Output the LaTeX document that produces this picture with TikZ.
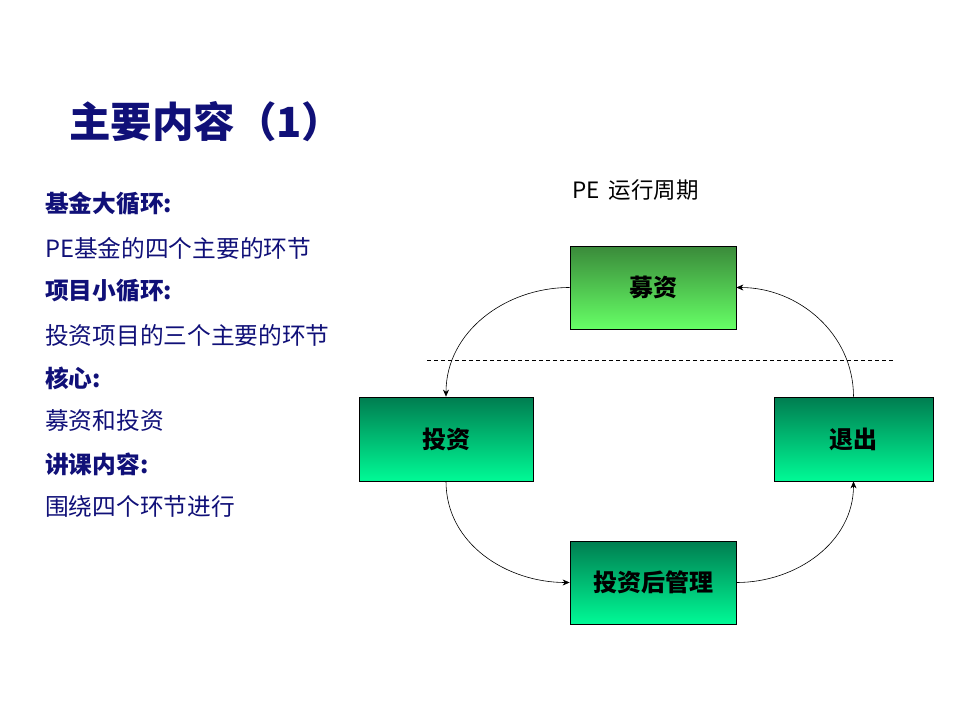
\documentclass[tikz,border=0pt]{standalone}
\usepackage{fontspec}
\newfontfamily\cjk{Noto Sans CJK SC}
\usetikzlibrary{arrows.meta}
\definecolor{navytxt}{RGB}{16,16,120}
\definecolor{gtopA}{RGB}{58,138,58}
\definecolor{gbotA}{RGB}{102,255,102}
\definecolor{gtopB}{RGB}{0,125,80}
\definecolor{gbotB}{RGB}{0,250,150}
\tikzset{
  stagebox/.style={draw=black, line width=0.8pt, inner sep=0pt,
    font=\cjk\bfseries\fontsize{24}{28}\selectfont, text=black},
  greenA/.style={top color=gtopA, bottom color=gbotA},
  greenB/.style={top color=gtopB, bottom color=gbotB},
  lefttxt/.style={anchor=west, inner sep=0pt, text=navytxt, font=\cjk\fontsize{23.7}{27}\selectfont},
  lefthead/.style={lefttxt, font=\cjk\bfseries\fontsize{23.7}{27}\selectfont},
  cycarrow/.style={-{Stealth[length=7pt,width=6pt]}, line width=0.6pt, black},
}
\begin{document}
\begin{tikzpicture}[x=1pt,y=-1pt]
\useasboundingbox[fill=white] (0,0) rectangle (960,720);
% title
\node[anchor=west, inner sep=0pt, text=navytxt, font=\cjk\bfseries\fontsize{41.5}{46}\selectfont] (title) at (69,122) {主要内容（1）};
% left text
\node[lefthead] (l1) at (45,204) {基金大循环:};
\node[lefttxt]  (l2) at (45,248) {PE基金的四个主要的环节};
\node[lefthead] (l3) at (45,291) {项目小循环:};
\node[lefttxt]  (l4) at (45,335) {投资项目的三个主要的环节};
\node[lefthead] (l5) at (45,378) {核心:};
\node[lefttxt]  (l6) at (45,421) {募资和投资};
\node[lefthead] (l7) at (45,464) {讲课内容:};
\node[lefttxt]  (l8) at (45,507) {围绕四个环节进行};
% diagram caption
\node[anchor=west, inner sep=0pt, font=\cjk\fontsize{22.5}{26}\selectfont] (cap) at (572,190) {PE\hspace{9pt}运行周期};
% boxes
\node[stagebox, greenA, minimum width=166pt, minimum height=83pt] (mz) at (653,287.5) {募资};
\node[stagebox, greenB, minimum width=174pt, minimum height=84pt] (tz) at (446,439) {投资};
\node[stagebox, greenB, minimum width=159pt, minimum height=84pt] (tc) at (853.5,439) {退出};
\node[stagebox, greenB, minimum width=166pt, minimum height=83pt] (gl) at (653,582.5) {投资后管理};
% dashed separator
\coordinate (dl) at (427,360);
\coordinate (dr) at (893,360);
\draw[dashed, dash pattern=on 4pt off 3pt, line width=0.6pt] (dl) -- (dr);
% cycle arrows
\draw[cycarrow] (mz.west) to[out=180,in=90] (tz.north);
\draw[cycarrow] (tz.south) to[out=-90,in=180] (gl.west);
\draw[cycarrow] (gl.east) to[out=0,in=-90] (tc.south);
\draw[cycarrow] (tc.north) to[out=90,in=0] (mz.east);
\end{tikzpicture}
\end{document}
